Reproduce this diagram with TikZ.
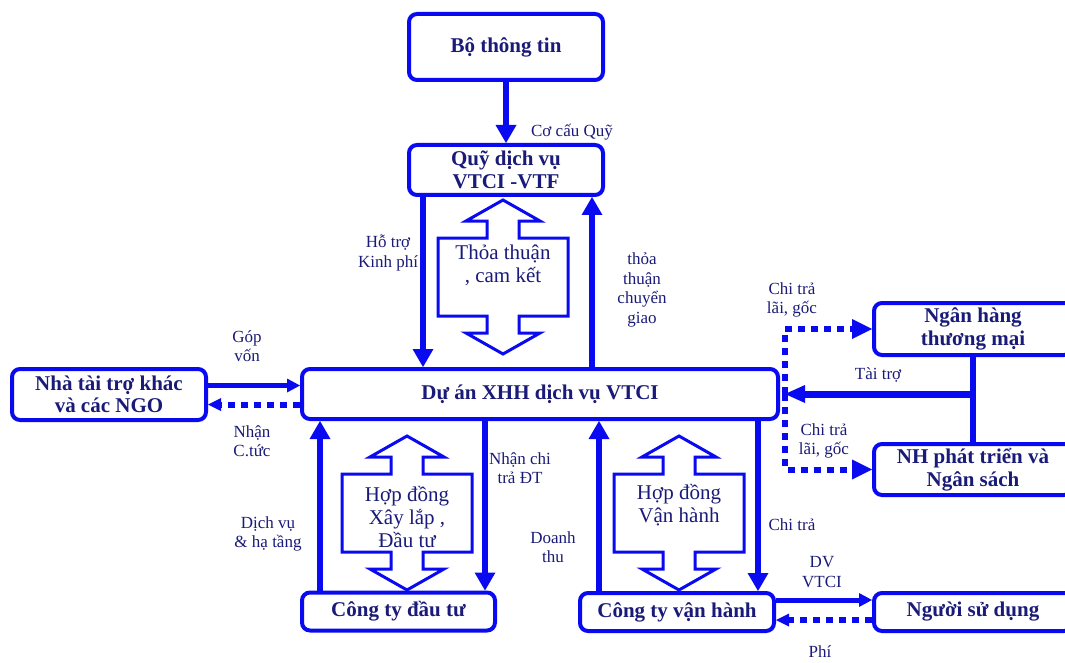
\documentclass[tikz,border=0pt]{standalone}
\usepackage{fontspec}
\setmainfont{Liberation Serif}
\usetikzlibrary{arrows.meta}
\definecolor{vtblue}{HTML}{0A0AF0}
\definecolor{vtnavy}{HTML}{1A1A78}

\begin{document}
\begin{tikzpicture}[x=1pt, y=-1pt,
  box/.style={draw=vtblue, line width=4pt, rounded corners=8pt, fill=white,
              text=vtnavy, font=\fontsize{21}{22.5}\selectfont\bfseries,
              align=center, inner sep=0pt},
  lbl/.style={text=vtnavy, font=\fontsize{17}{19.5}\selectfont,
              align=center, inner sep=0pt},
  deal/.style={text=vtnavy, font=\fontsize{21}{23}\selectfont,
               align=center, inner sep=0pt},
  flow/.style={-{Triangle[length=18pt,width=21pt,line width=0pt]},
               line width=6pt, draw=vtblue},
  thin flow/.style={-{Triangle[length=13pt,width=14pt,line width=0pt]},
                    line width=5pt, draw=vtblue},
  big flow/.style={-{Triangle[length=20pt,width=18pt,line width=0pt]},
                   line width=7pt, draw=vtblue},
  dots/.style={-{Triangle[length=13pt,width=13pt,line width=0pt]},
               line width=6pt, draw=vtblue, dash pattern=on 7pt off 6pt},
  big dots/.style={-{Triangle[length=20pt,width=20pt,line width=0pt]},
                   line width=6pt, draw=vtblue, dash pattern=on 7pt off 6pt},
  hollow/.style={draw=vtblue, line width=3pt, fill=white, line join=miter},
  dualarrow/.pic={
    \path[hollow] (0,-77) -- (37,-56) -- (16,-56) -- (16,-39) -- (65,-39)
      -- (65,39) -- (16,39) -- (16,56) -- (37,56) -- (0,77) -- (-37,56)
      -- (-16,56) -- (-16,39) -- (-65,39) -- (-65,-39) -- (-16,-39)
      -- (-16,-56) -- (-37,-56) -- cycle;
  },
]
\useasboundingbox (0,0) rectangle (1065,663);

% boxes
\node[box, minimum width=194pt, minimum height=66pt] (bo)      at (506,47)      {Bộ thông tin};
\node[box, minimum width=194pt, minimum height=50pt] (quy)     at (506,170)     {Quỹ dịch vụ\\VTCI -VTF};
\node[box, minimum width=476pt, minimum height=50pt] (duan)    at (540,394)     {Dự án XHH dịch vụ VTCI};
\node[box, minimum width=194pt, minimum height=51pt] (nha)     at (109,394.5)   {Nhà tài trợ khác\\và các NGO};
\node[box, minimum width=198pt, minimum height=52pt] (nhtm)    at (973,329)     {Ngân hàng\\thương mại};
\node[box, minimum width=198pt, minimum height=51pt] (nhpt)    at (973,469.5)   {NH phát triển và\\Ngân sách};
\node[box, minimum width=198pt, minimum height=38pt] (nguoi)   at (973,612)     {Người sử dụng};
\node[box, minimum width=193pt, minimum height=38pt] (dautu)   at (398.5,611.5) {Công ty đầu tư};
\node[box, minimum width=194pt, minimum height=38pt] (vanhanh) at (677,612)     {Công ty vận hành};

% contracts
\pic at (503,277) {dualarrow};
\pic at (407,513) {dualarrow};
\pic at (679,513) {dualarrow};
\node[deal] (camket) at (503,265) {Thỏa thuận\\, cam kết};
\node[deal] (xaylap) at (407,517) {Hợp đồng\\Xây lắp ,\\Đầu tư};
\node[deal] (vhanh)  at (679,505) {Hợp đồng\\Vận hành};

% attach points
\coordinate (q1) at ([xshift=16pt]quy.south west);
\coordinate (q2) at ([xshift=-13pt]quy.south east);
\coordinate (d1) at ([xshift=20pt]dautu.north west);
\coordinate (d2) at ([xshift=-12pt]dautu.north east);
\coordinate (v1) at ([xshift=21pt]vanhanh.north west);
\coordinate (v2) at ([xshift=-18pt]vanhanh.north east);
\coordinate (g1) at ([yshift=9pt]nha.east);
\coordinate (g2) at ([yshift=-10pt]nha.east);
\coordinate (u1) at ([yshift=12pt]vanhanh.east);
\coordinate (u2) at ([yshift=-8pt]vanhanh.east);
\coordinate (jr) at ([xshift=5pt]duan.east);
\coordinate (bank) at (nhtm.south |- duan.east);

% flows
\draw[flow] (bo) -- (quy);
\draw[flow] (q1) -- (q1 |- duan.north);
\draw[flow] (q2 |- duan.north) -- (q2);
\draw[flow] (d1) -- (d1 |- duan.south);
\draw[flow] (d2 |- duan.south) -- (d2);
\draw[flow] (v1) -- (v1 |- duan.south);
\draw[flow] (v2 |- duan.south) -- (v2);
\draw[thin flow] (g1) -- (g1 -| duan.west);
\draw[dots] (g2 -| duan.west) -- (g2);
\draw[thin flow] (u1) -- (u1 -| nguoi.west);
\draw[dots] (u2 -| nguoi.west) -- (u2);
\draw[vtblue, line width=6.5pt] (nhtm) -- (nhpt);
\draw[big flow] (bank) -- (jr);
\draw[big dots] (jr) |- (nhtm.west);
\draw[big dots] (jr) |- (nhpt.west);

% labels
\node[lbl] (cocau)      at (572,132) {Cơ cấu Quỹ};
\node[lbl] (hotro)      at (388,253) {Hỗ trợ\\Kinh phí};
\node[lbl] (chuyengiao) at (642,290) {thỏa\\thuận\\chuyển\\giao};
\node[lbl] (gopvon)     at (247,346) {Góp\\vốn};
\node[lbl] (cotuc)      at (252,441) {Nhận\\C.tức};
\node[lbl] (laigoc1)    at (792,300) {Chi trả\\lãi, gốc};
\node[lbl] (taitro)     at (878,375) {Tài trợ};
\node[lbl] (laigoc2)    at (824,441) {Chi trả\\lãi, gốc};
\node[lbl] (chidt)      at (520,468) {Nhận chi\\trả ĐT};
\node[lbl] (hatang)     at (268,534) {Dịch vụ\\\& hạ tầng};
\node[lbl] (doanhthu)   at (553,547) {Doanh\\thu};
\node[lbl] (chitra)     at (792,525) {Chi trả};
\node[lbl] (dvvtci)     at (822,572) {DV\\VTCI};
\node[lbl] (phi)        at (820,652) {Phí};

\end{tikzpicture}
\end{document}
